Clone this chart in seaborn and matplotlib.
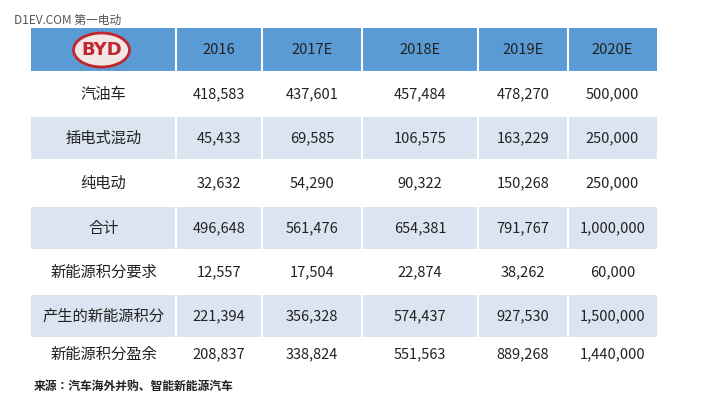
import numpy as np
import matplotlib
matplotlib.use("Agg")
import matplotlib.pyplot as plt
from matplotlib.colors import ListedColormap
from matplotlib.patches import Ellipse
from matplotlib import font_manager
import seaborn as sns

names = sorted({f.name for f in font_manager.fontManager.ttflist if "CJK" in f.name})
cjk = [n for n in ["Noto Sans CJK SC", "Noto Sans CJK JP", "Noto Sans CJK TC", "Noto Sans CJK KR"] if n in names] + names
plt.rcParams["font.family"] = "sans-serif"
plt.rcParams["font.sans-serif"] = cjk + ["DejaVu Sans"]

years = ["2016", "2017E", "2018E", "2019E", "2020E"]
row_labels = ["汽油车", "插电式混动", "纯电动", "合计", "新能源积分要求", "产生的新能源积分", "新能源积分盈余"]
gasoline = ["418,583", "437,601", "457,484", "478,270", "500,000"]
phev = ["45,433", "69,585", "106,575", "163,229", "250,000"]
bev = ["32,632", "54,290", "90,322", "150,268", "250,000"]
total = ["496,648", "561,476", "654,381", "791,767", "1,000,000"]
requirement = ["12,557", "17,504", "22,874", "38,262", "60,000"]
generated = ["221,394", "356,328", "574,437", "927,530", "1,500,000"]
surplus = ["208,837", "338,824", "551,563", "889,268", "1,440,000"]
rows = [gasoline, phev, bev, total, requirement, generated, surplus]

col_edges = [31, 176, 262, 362, 478, 568, 657]
row_edges = [28, 72, 116, 160, 206, 250, 294, 338, 370]

fig = plt.figure(figsize=(7.17, 4.0), dpi=100)
ax = fig.add_axes([0, 0, 1, 1])

W, H = 717, 400
grid = np.full((H, W), np.nan)
for r in range(len(row_edges) - 1):
    v = 0 if r == 0 else (2 if r % 2 == 0 else 1)
    grid[row_edges[r]:row_edges[r + 1], col_edges[0]:col_edges[-1]] = v
cmap = ListedColormap(["#5b9bd5", "#ffffff", "#dbe5f1"])
sns.heatmap(grid, ax=ax, cmap=cmap, vmin=-0.5, vmax=2.5, cbar=False,
            xticklabels=False, yticklabels=False)
ax.set_xlim(0, W)
ax.set_ylim(H, 0)
ax.axis("off")

for x in col_edges[1:-1]:
    ax.plot([x, x], [row_edges[0], row_edges[-1]], color="white", lw=1.5)
for y in row_edges[1:-1]:
    ax.plot([col_edges[0], col_edges[-1]], [y, y], color="white", lw=1.5)

centers_x = [(col_edges[i] + col_edges[i + 1]) / 2 for i in range(len(col_edges) - 1)]
centers_y = [(row_edges[i] + row_edges[i + 1]) / 2 for i in range(len(row_edges) - 1)]

ax.add_patch(Ellipse((centers_x[0] - 2, centers_y[0]), 56, 34, fill=True,
                     facecolor="#f3e6e6", edgecolor="#c0262d", lw=2))
ax.text(centers_x[0] - 2, centers_y[0], "BYD", color="#c0262d", fontsize=13,
        fontweight="bold", ha="center", va="center", family="DejaVu Sans")

for j, yr in enumerate(years):
    ax.text(centers_x[j + 1], centers_y[0], yr, ha="center", va="center",
            fontsize=10.5, color="#222222")
for i, lab in enumerate(row_labels):
    ax.text(centers_x[0], centers_y[i + 1], lab, ha="center", va="center",
            fontsize=11, color="#222222")
    for j, val in enumerate(rows[i]):
        ax.text(centers_x[j + 1], centers_y[i + 1], val, ha="center", va="center",
                fontsize=10.5, color="#222222")

ax.text(14, 20, "D1EV.COM 第一电动", fontsize=8.5, color="#555555", ha="left", va="center")
ax.text(34, 386, "来源：汽车海外并购、智能新能源汽车", fontsize=8.5, fontweight="bold",
        color="#222222", ha="left", va="center")

fig.savefig("out.png", dpi=100)
